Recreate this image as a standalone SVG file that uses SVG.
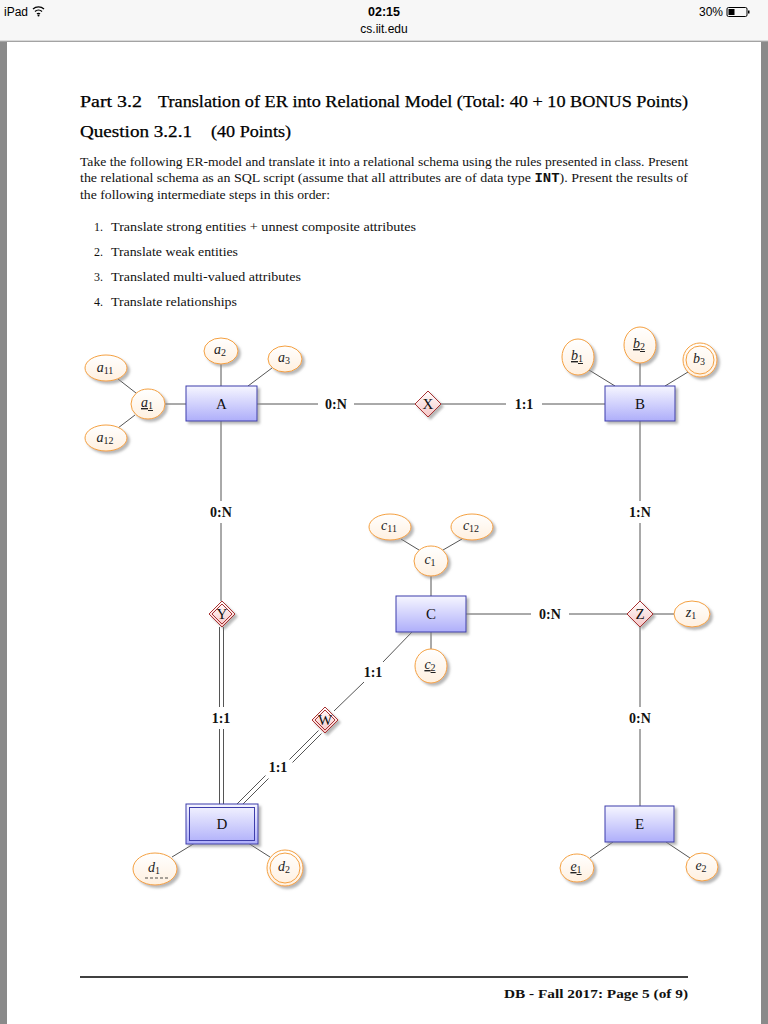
<svg xmlns="http://www.w3.org/2000/svg" width="768" height="1024" viewBox="0 0 768 1024">
<defs>
<style>
.ser{font-family:"Liberation Serif","DejaVu Serif",serif;fill:#111}
.hd{font-family:"Liberation Serif","DejaVu Serif",serif;fill:#000;font-size:16px;stroke:#000;stroke-width:0.25}
.ui{font-family:"Liberation Sans",Arial,sans-serif;fill:#000}
.ln{stroke:#555;stroke-width:1;fill:none}
.lb{font-family:"Liberation Serif",serif;font-size:14px;font-weight:bold;fill:#111;text-anchor:middle}
.att{fill:url(#ga);stroke:#f4a040;stroke-width:1;filter:url(#sh)}
.att2{fill:none;stroke:#f4a040;stroke-width:1}
.ent{fill:url(#ge);stroke:#3d3dab;stroke-width:1;filter:url(#sh)}
.rel{fill:url(#gr);stroke:#a83232;stroke-width:1;filter:url(#sh)}
.et{font-family:"Liberation Serif",serif;font-size:15px;fill:#111;text-anchor:middle}
.at{font-family:"Liberation Serif",serif;font-size:14px;font-style:italic;fill:#222;text-anchor:middle}
.sub{font-size:10px;font-style:normal}
.bd{font-size:12px}
</style>
<linearGradient id="ga" x1="0" y1="0" x2="0" y2="1"><stop offset="0" stop-color="#ffffff"/><stop offset="1" stop-color="#fff0e0"/></linearGradient>
<linearGradient id="ge" x1="0" y1="0" x2="0" y2="1"><stop offset="0" stop-color="#f6f6ff"/><stop offset="1" stop-color="#aeaefa"/></linearGradient>
<linearGradient id="gr" x1="0" y1="0" x2="0" y2="1"><stop offset="0" stop-color="#ffffff"/><stop offset="1" stop-color="#f6c6c6"/></linearGradient>
<filter id="sh" x="-30%" y="-30%" width="170%" height="170%"><feDropShadow dx="2.5" dy="2.5" stdDeviation="1" flood-color="#888" flood-opacity="0.6"/></filter>
</defs>

<!-- background / page -->
<rect x="0" y="0" width="768" height="1024" fill="#8a8a8a"/>
<rect x="0" y="0" width="768" height="41" fill="#f7f7f7"/>
<line x1="0" y1="41" x2="768" y2="41" stroke="#bbb" stroke-width="1"/>
<rect x="7" y="42" width="754" height="982" fill="#ffffff"/>

<!-- status bar -->
<g id="statusbar">
<text class="ui" x="4" y="16" font-size="12">iPad</text>
<path d="M33,9 a8,8 0 0 1 11,0 M35,11.5 a5,5 0 0 1 7,0 M37,14 a2,2 0 0 1 3,0" stroke="#000" stroke-width="1.3" fill="none"/>
<circle cx="38.5" cy="15.5" r="1" fill="#000"/>
<text class="ui" x="384" y="16" font-size="12.5" font-weight="bold" text-anchor="middle">02:15</text>
<text class="ui" x="384" y="33" font-size="12" text-anchor="middle">cs.iit.edu</text>
<text class="ui" x="723" y="16" font-size="12" text-anchor="end">30%</text>
<rect x="727" y="7.5" width="20" height="9" rx="1.5" fill="none" stroke="#000" stroke-width="1"/>
<rect x="728.5" y="9" width="6" height="6" fill="#000"/>
<rect x="748" y="10.5" width="1.5" height="3" fill="#000"/>
</g>

<!-- header text -->
<g id="header">
<text class="hd" x="80" y="107" textLength="62" lengthAdjust="spacingAndGlyphs">Part 3.2</text>
<text class="hd" x="158" y="107" textLength="530" lengthAdjust="spacingAndGlyphs">Translation of ER into Relational Model (Total: 40 + 10 BONUS Points)</text>
<text class="hd" x="80" y="137" textLength="112" lengthAdjust="spacingAndGlyphs">Question 3.2.1</text>
<text class="hd" x="211" y="137" textLength="80" lengthAdjust="spacingAndGlyphs">(40 Points)</text>
<text class="ser bd" x="80" y="166" textLength="608" lengthAdjust="spacingAndGlyphs">Take the following ER-model and translate it into a relational schema using the rules presented in class. Present</text>
<text class="ser bd" x="80" y="182" textLength="608" lengthAdjust="spacingAndGlyphs">the relational schema as an SQL script (assume that all attributes are of data type <tspan font-family="Liberation Mono,monospace" font-weight="bold">INT</tspan>). Present the results of</text>
<text class="ser bd" x="80" y="199" textLength="250" lengthAdjust="spacingAndGlyphs">the following intermediate steps in this order:</text>
<text class="ser bd" x="94" y="231">1.</text>
<text class="ser bd" x="111" y="231" textLength="305" lengthAdjust="spacingAndGlyphs">Translate strong entities + unnest composite attributes</text>
<text class="ser bd" x="94" y="256">2.</text>
<text class="ser bd" x="111" y="256" textLength="127" lengthAdjust="spacingAndGlyphs">Translate weak entities</text>
<text class="ser bd" x="94" y="281">3.</text>
<text class="ser bd" x="111" y="281" textLength="190" lengthAdjust="spacingAndGlyphs">Translated multi-valued attributes</text>
<text class="ser bd" x="94" y="306">4.</text>
<text class="ser bd" x="111" y="306" textLength="126" lengthAdjust="spacingAndGlyphs">Translate relationships</text>
</g>

<!-- connectors -->
<g id="connectors">
<line class="ln" x1="118" y1="379" x2="136" y2="393"/>
<line class="ln" x1="118" y1="428" x2="135" y2="415"/>
<line class="ln" x1="164" y1="404" x2="186" y2="404"/>
<line class="ln" x1="221" y1="364" x2="221" y2="386"/>
<line class="ln" x1="272" y1="368" x2="248" y2="386"/>
<line class="ln" x1="589" y1="370" x2="615" y2="386"/>
<line class="ln" x1="640" y1="363" x2="640" y2="386"/>
<line class="ln" x1="688" y1="372" x2="665" y2="386"/>
<line class="ln" x1="401" y1="539" x2="419" y2="550"/>
<line class="ln" x1="462" y1="539" x2="443" y2="550"/>
<line class="ln" x1="431" y1="576" x2="431" y2="596"/>
<line class="ln" x1="431" y1="632" x2="431" y2="649"/>
<line class="ln" x1="653" y1="614" x2="674" y2="614"/>
<line class="ln" x1="613" y1="842" x2="590" y2="858"/>
<line class="ln" x1="666" y1="842" x2="690" y2="858"/>
<line class="ln" x1="195" y1="843" x2="172" y2="857"/>
<line class="ln" x1="248" y1="843" x2="270" y2="857"/>
<line class="ln" x1="257" y1="404" x2="318" y2="404"/>
<line class="ln" x1="354" y1="404" x2="415" y2="404"/>
<line class="ln" x1="441" y1="404" x2="506" y2="404"/>
<line class="ln" x1="542" y1="404" x2="605" y2="404"/>
<text class="lb" x="336" y="409">0:N</text>
<text class="lb" x="524" y="409">1:1</text>
<line class="ln" x1="221" y1="421" x2="221" y2="501"/>
<line class="ln" x1="221" y1="523" x2="221" y2="601"/>
<text class="lb" x="221" y="517">0:N</text>
<line class="ln" x1="219.5" y1="627" x2="219.5" y2="707"/>
<line class="ln" x1="223.5" y1="627" x2="223.5" y2="707"/>
<line class="ln" x1="219.5" y1="729" x2="219.5" y2="804"/>
<line class="ln" x1="223.5" y1="729" x2="223.5" y2="804"/>
<text class="lb" x="221" y="723">1:1</text>
<line class="ln" x1="640" y1="421" x2="640" y2="501"/>
<line class="ln" x1="640" y1="523" x2="640" y2="601"/>
<text class="lb" x="640" y="517">1:N</text>
<line class="ln" x1="466" y1="614" x2="531" y2="614"/>
<line class="ln" x1="569" y1="614" x2="627" y2="614"/>
<text class="lb" x="550" y="619">0:N</text>
<line class="ln" x1="640" y1="627" x2="640" y2="707"/>
<line class="ln" x1="640" y1="729" x2="640" y2="806"/>
<text class="lb" x="640" y="723">0:N</text>
<line class="ln" x1="412" y1="632" x2="383" y2="662"/>
<line class="ln" x1="364" y1="682" x2="334" y2="711"/>
<text class="lb" x="373" y="677">1:1</text>
<line class="ln" x1="318.5" y1="730.5" x2="289.5" y2="759.5"/>
<line class="ln" x1="321.5" y1="733.5" x2="292.5" y2="762.5"/>
<line class="ln" x1="265.5" y1="775.5" x2="236.5" y2="804.5"/>
<line class="ln" x1="268.5" y1="778.5" x2="240.5" y2="806.5"/>
<text class="lb" x="278" y="772">1:1</text>
</g>

<!-- entities -->
<g id="A"><rect class="ent" x="186" y="386" width="71" height="35"/><text class="et" x="221.5" y="409">A</text></g>
<g id="B"><rect class="ent" x="605" y="386" width="70" height="35"/><text class="et" x="640" y="409">B</text></g>
<g id="C"><rect class="ent" x="396" y="596" width="70" height="36"/><text class="et" x="431" y="619">C</text></g>
<g id="D"><rect class="ent" x="186" y="804" width="72" height="40"/><rect x="189.5" y="807.5" width="65" height="33" fill="none" stroke="#3d3dab" stroke-width="1"/><text class="et" x="222" y="829">D</text></g>
<g id="E"><rect class="ent" x="605" y="806" width="69" height="36"/><text class="et" x="639.5" y="829">E</text></g>

<!-- relationships -->
<g id="X"><polygon class="rel" points="428,391 441,404 428,417 415,404"/><text class="et" x="428" y="409">X</text></g>
<g id="Y"><polygon class="rel" points="222,601 235,614 222,627 209,614"/><polygon points="222,604 232,614 222,624 212,614" fill="none" stroke="#a83232" stroke-width="1"/><text class="et" x="222" y="619">Y</text></g>
<g id="Z"><polygon class="rel" points="640,601 653,614 640,627 627,614"/><text class="et" x="640" y="619">Z</text></g>
<g id="W"><polygon class="rel" points="325,707 338,720 325,733 312,720"/><polygon points="325,710 335,720 325,730 315,720" fill="none" stroke="#a83232" stroke-width="1"/><text class="et" x="325" y="725">W</text></g>

<!-- attributes -->
<g id="a11"><ellipse class="att" cx="106" cy="368" rx="21" ry="13"/><text class="at" x="105" y="372">a<tspan class="sub" dy="2">11</tspan></text></g>
<g id="a1"><ellipse class="att" cx="148" cy="404" rx="17" ry="15"/><text class="at" x="147" y="407" text-decoration="underline">a<tspan class="sub" dy="2">1</tspan></text></g>
<g id="a12"><ellipse class="att" cx="106" cy="438" rx="21" ry="13"/><text class="at" x="105" y="442">a<tspan class="sub" dy="2">12</tspan></text></g>
<g id="a2"><ellipse class="att" cx="221" cy="351" rx="17" ry="13"/><text class="at" x="220" y="354">a<tspan class="sub" dy="2">2</tspan></text></g>
<g id="a3"><ellipse class="att" cx="285" cy="359" rx="17" ry="13"/><text class="at" x="284" y="362">a<tspan class="sub" dy="2">3</tspan></text></g>
<g id="b1"><ellipse class="att" cx="578" cy="357" rx="16" ry="18"/><text class="at" x="577" y="360" text-decoration="underline">b<tspan class="sub" dy="2">1</tspan></text></g>
<g id="b2"><ellipse class="att" cx="640" cy="345" rx="16" ry="18"/><text class="at" x="639" y="348" text-decoration="underline">b<tspan class="sub" dy="2">2</tspan></text></g>
<g id="b3"><ellipse class="att" cx="700" cy="360" rx="17" ry="17"/><ellipse class="att2" cx="700" cy="360" rx="14" ry="14"/><text class="at" x="699" y="363">b<tspan class="sub" dy="2">3</tspan></text></g>
<g id="c11"><ellipse class="att" cx="390" cy="527" rx="21" ry="13"/><text class="at" x="389" y="530">c<tspan class="sub" dy="2">11</tspan></text></g>
<g id="c12"><ellipse class="att" cx="472" cy="527" rx="21" ry="13"/><text class="at" x="471" y="530">c<tspan class="sub" dy="2">12</tspan></text></g>
<g id="c1"><ellipse class="att" cx="431" cy="561" rx="17" ry="15"/><text class="at" x="430" y="564">c<tspan class="sub" dy="2">1</tspan></text></g>
<g id="c2"><ellipse class="att" cx="431" cy="666" rx="16" ry="17"/><text class="at" x="430" y="669" text-decoration="underline">c<tspan class="sub" dy="2">2</tspan></text></g>
<g id="z1"><ellipse class="att" cx="692" cy="614" rx="18" ry="13"/><text class="at" x="691" y="617">z<tspan class="sub" dy="2">1</tspan></text></g>
<g id="d1"><ellipse class="att" cx="155" cy="869" rx="22" ry="16"/><text class="at" x="154" y="872">d<tspan class="sub" dy="2">1</tspan></text><line x1="145" y1="878" x2="168" y2="878" stroke="#222" stroke-width="0.8" stroke-dasharray="3,2"/></g>
<g id="d2"><ellipse class="att" cx="285" cy="868" rx="18" ry="18"/><ellipse class="att2" cx="285" cy="868" rx="15" ry="15"/><text class="at" x="284" y="871">d<tspan class="sub" dy="2">2</tspan></text></g>
<g id="e1"><ellipse class="att" cx="577" cy="868" rx="17" ry="14"/><text class="at" x="576" y="871" text-decoration="underline">e<tspan class="sub" dy="2">1</tspan></text></g>
<g id="e2"><ellipse class="att" cx="702" cy="867" rx="16" ry="14"/><text class="at" x="701" y="870">e<tspan class="sub" dy="2">2</tspan></text></g>

<!-- footer -->
<g id="footer">
<line x1="80" y1="977" x2="688" y2="977" stroke="#000" stroke-width="1.5"/>
<text class="ser" x="504" y="998" font-size="12" font-weight="bold" textLength="184" lengthAdjust="spacingAndGlyphs">DB - Fall 2017: Page 5 (of 9)</text>
</g>
</svg>
